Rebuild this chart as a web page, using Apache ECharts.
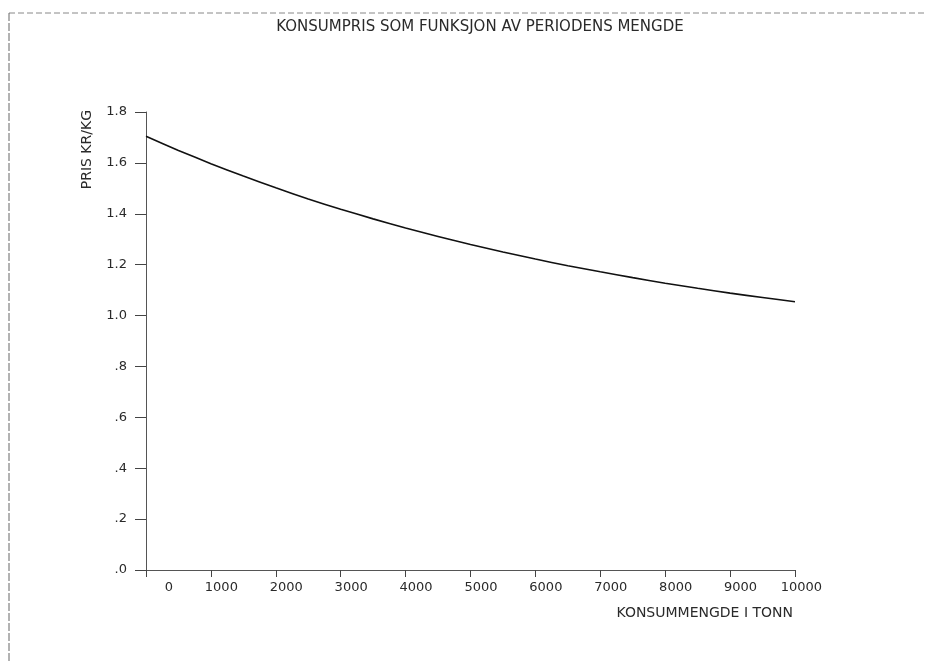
<!DOCTYPE html>
<html><head><meta charset="utf-8">
<script src="https://cdn.jsdelivr.net/npm/echarts@6/dist/echarts.min.js"></script>
<style>html,body{margin:0;padding:0;background:#fff}#c{width:926px;height:663px}</style>
</head><body><div id="c"></div>
<script>
const titleText = 'KONSUMPRIS SOM FUNKSJON AV PERIODENS MENGDE';
const xAxisName = 'KONSUMMENGDE I TONN';
const yAxisName = 'PRIS KR/KG';
const quantities = [0, 500, 1000, 1500, 2000, 2500, 3000, 3500, 4000, 4500, 5000,
                    5500, 6000, 6500, 7000, 7500, 8000, 8500, 9000, 9500, 10000];
const prices = [1.705, 1.649, 1.597, 1.548, 1.502, 1.458, 1.418, 1.380, 1.344, 1.311, 1.279,
                1.250, 1.222, 1.196, 1.172, 1.149, 1.127, 1.107, 1.088, 1.071, 1.054];
const xTickLabels = ['0', '1000', '2000', '3000', '4000', '5000', '6000', '7000', '8000', '9000', '10000'];
const yTickLabels = ['.0', '.2', '.4', '.6', '.8', '1.0', '1.2', '1.4', '1.6', '1.8'];

const FONT = 'DejaVu Sans';
const INK = '#2a2a2a';
const chart = echarts.init(document.getElementById('c'), null, {renderer: 'canvas'});
chart.setOption({
  animation: false,
  backgroundColor: '#ffffff',
  title: {
    text: titleText,
    left: 475, top: 15, textAlign: 'center',
    textStyle: {fontFamily: FONT, fontSize: 15, fontWeight: 'normal', color: INK}
  },
  grid: {left: 146, right: 131, top: 112, bottom: 93, containLabel: false},
  xAxis: {
    type: 'value', min: 0, max: 10000, interval: 1000,
    name: xAxisName, nameLocation: 'end', nameGap: -2,
    nameTextStyle: {fontFamily: FONT, fontSize: 14, color: INK, align: 'right', verticalAlign: 'top', padding: [36, 0, 0, 0]},
    axisLine: {show: true, lineStyle: {color: '#555', width: 1}},
    axisTick: {show: true, inside: false, length: 7, lineStyle: {color: '#444'}},
    splitLine: {show: false},
    axisLabel: {
      margin: 11, align: 'center',
      formatter: function (v) { return '{a|' + xTickLabels[Math.round(v / 1000)] + '}'; },
      rich: {a: {width: 54, align: 'right', fontFamily: FONT, fontSize: 13, color: INK}}
    }
  },
  yAxis: {
    type: 'value', min: 0, max: 1.8, interval: 0.2,
    name: yAxisName, nameLocation: 'end', nameGap: 2, nameRotate: 90,
    nameTextStyle: {fontFamily: FONT, fontSize: 14, color: INK, align: 'right', verticalAlign: 'bottom', padding: [0, 0, 52, 0]},
    axisLine: {show: true, lineStyle: {color: '#555', width: 1}},
    axisTick: {show: true, inside: false, length: 11, lineStyle: {color: '#444'}},
    splitLine: {show: false},
    axisLabel: {
      margin: 19, fontFamily: FONT, fontSize: 13, color: INK,
      formatter: function (v) { return yTickLabels[Math.round(v / 0.2)]; }
    }
  },
  graphic: [
    {type: 'line', shape: {x1: 9, y1: 13, x2: 926, y2: 13}, style: {stroke: '#888', lineWidth: 1, lineDash: [6, 3]}},
    {type: 'line', shape: {x1: 9, y1: 13, x2: 9, y2: 663}, style: {stroke: '#666', lineWidth: 1, lineDash: [8, 2]}}
  ],
  series: [{
    type: 'line',
    data: quantities.map(function (q, i) { return [q, prices[i]]; }),
    showSymbol: false, smooth: 0.2,
    lineStyle: {color: '#111', width: 1.6}
  }]
});
</script>
</body></html>
